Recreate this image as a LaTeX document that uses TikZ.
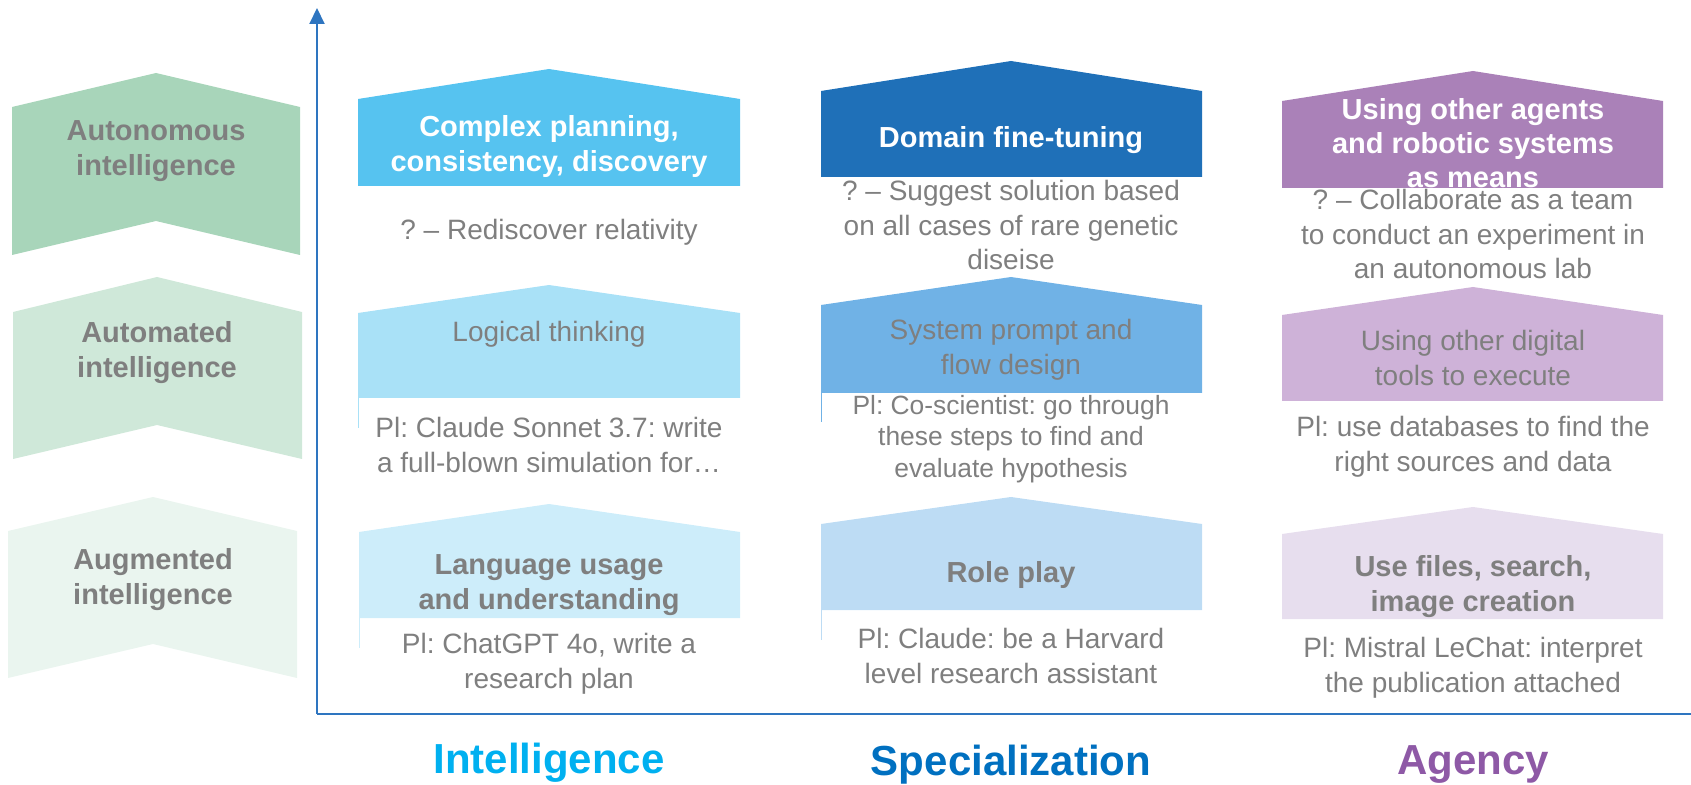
\documentclass[tikz,border=0pt]{standalone}
\usepackage{fontspec}
\setmainfont{Liberation Sans}
\usetikzlibrary{arrows.meta}
\frenchspacing

\definecolor{txtgray}{HTML}{7F7F7F}
\definecolor{axisblue}{HTML}{2E75C0}
\definecolor{greenA}{HTML}{A8D5BA}
\definecolor{greenB}{HTML}{CFE8D9}
\definecolor{greenC}{HTML}{EAF5EF}
\definecolor{intA}{HTML}{56C3F0}
\definecolor{intB}{HTML}{A9E1F7}
\definecolor{intC}{HTML}{CDEDFA}
\definecolor{specA}{HTML}{1F70B8}
\definecolor{specB}{HTML}{70B2E6}
\definecolor{specC}{HTML}{BDDCF4}
\definecolor{agA}{HTML}{AA81B8}
\definecolor{agB}{HTML}{CEB2D8}
\definecolor{agC}{HTML}{E7DEEE}
\definecolor{intTitle}{HTML}{00B0F0}
\definecolor{specTitle}{HTML}{0070C0}
\definecolor{agTitle}{HTML}{8E59A6}

\tikzset{
  lvltext/.style={font=\bfseries\fontsize{14.5}{17.5}\selectfont, text=txtgray, align=center, inner sep=0pt},
  headtext/.style={font=\bfseries\fontsize{14.5}{17.5}\selectfont, text=white, align=center, inner sep=0pt},
  boldgray/.style={font=\bfseries\fontsize{14.5}{17.5}\selectfont, text=txtgray, align=center, inner sep=0pt},
  boxtext/.style={font=\fontsize{14}{17.25}\selectfont, text=txtgray, align=center, inner sep=0pt},
  coltitle/.style={font=\bfseries\fontsize{21}{25}\selectfont, inner sep=0pt},
  axisline/.style={axisblue, line width=1pt},
  edgeline/.style={line width=0.4pt}
}

\begin{document}
\begin{tikzpicture}[x=0.5pt, y=-0.5pt]
  \useasboundingbox (0,0) rectangle (1691,785);

  % Level chevrons on the left
  \fill[greenA] (12,107) -- (156,73) -- (300,107) -- (300,255) -- (156,221) -- (12,255) -- cycle;
  \fill[greenB] (13,312) -- (157,277) -- (302,312) -- (302,459) -- (157,425) -- (13,459) -- cycle;
  \fill[greenC] (8,531) -- (153,497) -- (297,531) -- (297,678) -- (153,644) -- (8,678) -- cycle;

  \node[lvltext] (autonomous) at (156,151) {Autonomous\\intelligence};
  \node[lvltext] (automated) at (157,353) {Automated\\intelligence};
  \node[lvltext] (augmented) at (153,580) {Augmented\\intelligence};

  % Intelligence column (draw boxes first)
  \fill[intA] (358,99) -- (549,69) -- (740,99) -- (740,186) -- (358,186) -- cycle;
  \fill[intB] (358,313) -- (549,285) -- (740,313) -- (740,398) -- (358,398) -- cycle;
  \draw[intB, edgeline] (358,398) -- (358,428);
  \fill[intC] (359,532) -- (549,504) -- (740,532) -- (740,618) -- (359,618) -- cycle;
  \draw[intC, edgeline] (359,618) -- (359,648);

  \node[headtext] (intTop) at (549,147) {Complex planning,\\consistency, discovery};
  \node[boxtext] (intTopEx) at (549,232) {? – Rediscover relativity};
  \node[boxtext] (intMid) at (549,334) {Logical thinking};
  \node[boxtext] (intMidEx) at (549,445) {Pl: Claude Sonnet 3.7: write\\a full-blown simulation for…};
  \node[boldgray] (intLow) at (549,585) {Language usage\\and understanding};
  \node[boxtext] (intLowEx) at (549,664) {Pl: ChatGPT 4o, write a\\research plan};

  % Specialization column
  \fill[specA] (821,91) -- (1011,61) -- (1202,91) -- (1202,177) -- (821,177) -- cycle;
  \fill[specB] (821,305) -- (1011,277) -- (1202,305) -- (1202,393) -- (821,393) -- cycle;
  \draw[specB, edgeline] (821,393) -- (821,422);
  \fill[specC] (821,524) -- (1011,497) -- (1202,524) -- (1202,610) -- (821,610) -- cycle;
  \draw[specC, edgeline] (821,610) -- (821,640);

  \node[headtext] (specTop) at (1011,140) {Domain fine-tuning};
  \node[boxtext] (specTopEx) at (1011,225) {? – Suggest solution based\\on all cases of rare genetic\\diseise};
  \node[boxtext] (specMid) at (1011,350) {System prompt and\\flow design};
  \node[boxtext, font=\fontsize{13.2}{15.75}\selectfont] (specMidEx) at (1011,439)
    {Pl: Co-scientist: go through\\these steps to find and\\evaluate hypothesis};
  \node[boldgray] (specLow) at (1011,575) {Role play};
  \node[boxtext] (specLowEx) at (1011,656) {Pl: Claude: be a Harvard\\level research assistant};

  % Agency column
  \fill[agA] (1282,101) -- (1473,71) -- (1663,101) -- (1663,188) -- (1282,188) -- cycle;
  \fill[agB] (1282,315) -- (1473,287) -- (1663,315) -- (1663,401) -- (1282,401) -- cycle;
  \fill[agC] (1282,534) -- (1473,507) -- (1663,534) -- (1663,619) -- (1282,619) -- cycle;

  \node[headtext, font=\bfseries\fontsize{14.5}{17}\selectfont] (agTop) at (1473,143)
    {Using other agents\\and robotic systems\\as means};
  \node[boxtext] (agTopEx) at (1473,234) {? – Collaborate as a team\\to conduct an experiment in\\an autonomous lab};
  \node[boxtext] (agMid) at (1473,358) {Using other digital\\tools to execute};
  \node[boxtext] (agMidEx) at (1473,447) {Pl: use databases to find the\\right sources and data};
  \node[boldgray] (agLow) at (1473,587) {Use files, search,\\image creation};
  \node[boxtext] (agLowEx) at (1473,668) {Pl: Mistral LeChat: interpret\\the publication attached};

  % Axes (draw after boxes)
  \coordinate (origin) at (317,714);
  \coordinate (ytop) at (317,8);
  \coordinate (xend) at (1691,714);
  \draw[axisline, -{Triangle[width=7.5pt, length=8pt]}] (origin) -- (ytop);
  \draw[axisline] (origin) -- (xend);

  % Column titles
  \node[coltitle, text=intTitle] (intelligence) at (549,763) {Intelligence};
  \node[coltitle, text=specTitle] (specialization) at (1011,765) {Specialization};
  \node[coltitle, text=agTitle] (agency) at (1473,764) {Agency};

\end{tikzpicture}
\end{document}
